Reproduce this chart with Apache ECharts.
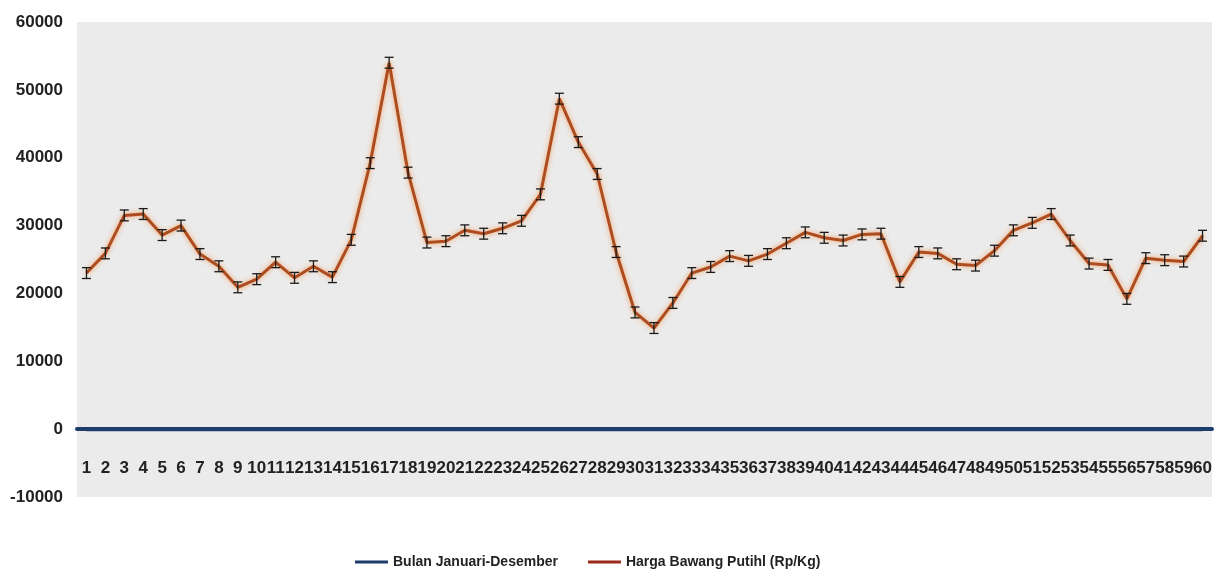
<!DOCTYPE html>
<html>
<head>
<meta charset="utf-8">
<script src="https://cdn.jsdelivr.net/npm/echarts@6/dist/echarts.min.js"></script>
<style>
html,body{margin:0;padding:0;background:#fff;}
#chart{width:1220px;height:576px;}
</style>
</head>
<body>
<div id="chart"></div>
<script>
const categories = ['1','2','3','4','5','6','7','8','9','10','11','12','13','14','15','16','17','18','19','20',
  '21','22','23','24','25','26','27','28','29','30','31','32','33','34','35','36','37','38','39','40',
  '41','42','43','44','45','46','47','48','49','50','51','52','53','54','55','56','57','58','59','60'];
const bulanValues = [0,0,0,0,0,0,0,0,0,0,0,0,0,0,0,0,0,0,0,0,
  0,0,0,0,0,0,0,0,0,0,0,0,0,0,0,0,0,0,0,0,
  0,0,0,0,0,0,0,0,0,0,0,0,0,0,0,0,0,0,0,0];
const hargaValues = [23000,25900,31500,31700,28600,30000,25800,24000,20900,22100,
  24600,22300,24000,22400,27900,39200,54000,37800,27500,27700,
  29300,28800,29600,30700,34600,48700,42300,37600,26100,17200,
  14900,18600,23000,23900,25500,24800,25800,27400,29000,28200,
  27800,28700,28800,21700,26100,25900,24300,24100,26300,29300,
  30400,31700,27800,24400,24200,19200,25200,24900,24700,28500];
const errorSize = 800;
const yTicks = {min: -10000, max: 60000, interval: 10000};

const FONT = "'Liberation Sans',Arial,sans-serif";

const chart = echarts.init(document.getElementById('chart'));
chart.setOption({
  animation: false,
  backgroundColor: '#ffffff',
  grid: {left: 77, right: 8, top: 22, bottom: 79, show: true, backgroundColor: '#ebebeb', borderWidth: 0},
  legend: {
    left: 350, top: 550,
    itemWidth: 33, itemHeight: 3, itemGap: 30, icon: 'rect',
    textStyle: {fontFamily: FONT, fontWeight: 'bold', fontSize: 14, color: '#222'},
    data: [
      {name: 'Bulan Januari-Desember', itemStyle: {color: '#1f3d6b'}},
      {name: 'Harga Bawang Putihl (Rp/Kg)', itemStyle: {color: '#9b2a1c'}}
    ]
  },
  xAxis: {
    type: 'category',
    data: categories,
    boundaryGap: true,
    axisLine: {show: true, onZero: true, lineStyle: {color: '#1f3d6b', width: 4}},
    axisTick: {show: false},
    axisLabel: {interval: 0, margin: -37, fontFamily: FONT, fontWeight: 'bold', fontSize: 17, color: '#222'},
    splitLine: {show: false}
  },
  yAxis: {
    type: 'value',
    min: yTicks.min, max: yTicks.max, interval: yTicks.interval,
    axisLine: {show: false},
    axisTick: {show: false},
    splitLine: {show: false},
    axisLabel: {margin: 14, fontFamily: FONT, fontWeight: 'bold', fontSize: 17, color: '#222',
      formatter: function (v) { return String(v); }}
  },
  series: [
    {
      name: 'Bulan Januari-Desember',
      type: 'line',
      data: bulanValues,
      showSymbol: false,
      symbol: 'none',
      lineStyle: {color: '#1f3d6b', width: 4},
      itemStyle: {color: '#1f3d6b'},
      z: 3
    },
    {
      name: 'Harga Bawang Putihl (Rp/Kg)',
      type: 'line',
      data: hargaValues,
      showSymbol: false,
      symbol: 'none',
      lineStyle: {color: '#ad4d1f', width: 3, shadowColor: 'rgba(245,150,80,0.9)', shadowBlur: 5},
      itemStyle: {color: '#9b2a1c'},
      z: 4
    },
    {
      name: 'error',
      type: 'custom',
      data: hargaValues.map((v, i) => [i, v, errorSize]),
      z: 5,
      silent: true,
      renderItem: function (params, api) {
        const x = api.value(0), v = api.value(1), e = api.value(2);
        const top = api.coord([x, v + e]);
        const bot = api.coord([x, v - e]);
        const hw = 4.5;
        const st = {stroke: '#1a1a1a', lineWidth: 1.3};
        return {
          type: 'group',
          children: [
            {type: 'line', shape: {x1: top[0], y1: top[1], x2: bot[0], y2: bot[1]}, style: st},
            {type: 'line', shape: {x1: top[0] - hw, y1: top[1], x2: top[0] + hw, y2: top[1]}, style: st},
            {type: 'line', shape: {x1: bot[0] - hw, y1: bot[1], x2: bot[0] + hw, y2: bot[1]}, style: st}
          ]
        };
      }
    }
  ]
});
</script>
</body>
</html>
